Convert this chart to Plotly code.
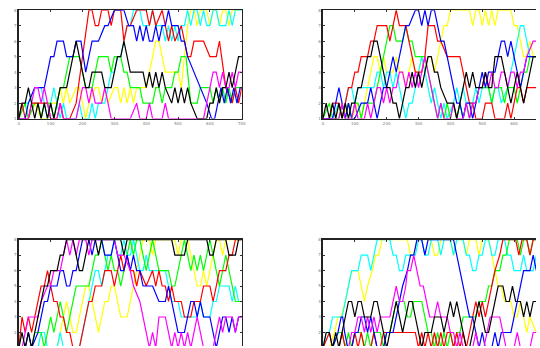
import plotly.graph_objects as go

# ---------------- data: (step, level) vertices ----------------
x_tick_vals = [0, 10, 20, 30, 40, 50, 60, 70]
x_tick_text = ["0", "100", "200", "300", "400", "500", "600", "700"]
y_tick_vals = [0, 1, 2, 3, 4, 5, 6, 7]
y_tick_text = ["1", "2", "3", "4", "5", "6", "7", "8"]

# top-left panel
tl_red = [(0,0),(1,1),(2,0),(3,0),(4,1),(9,1),(10,0),(12,0),(13,1),(14,0),(16,0),(18,1),(22,7),(23,7),(24,6),(25,6),(26,7),(28,7),(29,6),(30,7),(32,7),(33,5),(34,6),(35,6),(37,7),(40,7),(41,6),(42,7),(43,6),(45,7),(47,5),(48,6),(49,5),(51,6),(52,5),(53,4),(54,4),(55,5),(58,5),(60,4),(62,4),(63,5),(65,2),(67,1),(68,2),(69,1),(70,2)]
tl_blue = [(0,0),(2,0),(3,1),(5,2),(8,2),(9,3),(10,4),(11,4),(12,5),(14,5),(15,4),(17,4),(18,5),(19.5,5),(21,3),(22,4),(23,5),(25,5),(27,6),(28,6),(30,7),(33,7),(34.5,6),(36,6),(37,5),(38,6),(39,5),(40,6),(41,5),(42,5),(43,6),(44,5),(45,6),(46,6),(47,7),(48,6),(50,6),(51,5),(52,5),(53,4),(55,3),(57,2),(59,1),(60.5,0),(61.5,0),(62.5,1),(63.5,2),(64.5,1),(65.5,2),(66.5,1),(67.5,2),(68.5,1),(69.5,2),(70,2)]
tl_yellow = [(0,0),(3,0),(5,1),(7,0),(9,0),(10,1),(12,1),(13,2),(14,1),(15,2),(16,1),(18,2),(19,2),(20,1),(21,0),(22,1),(24,2),(25,2),(26,1),(27,2),(28,1),(30,2),(31,2),(32,1),(33,2),(34,1),(35,2),(36,1),(37,2),(40,2),(41,3),(42,4),(43,5),(44,5),(45,4),(46,3),(48,3),(50,3),(51,2),(52,4),(53,6),(54,7),(55,7),(56,6),(57,7),(59,7),(60,6),(61,7),(62,7),(63,6),(64,7),(65,7),(66,6),(67,7),(70,7)]
tl_cyan = [(0,0),(2,1),(3,1),(5,2),(7,2),(8,1),(9,0),(10,1),(11,2),(12,1),(13,0),(14,1),(15,0),(18,0),(19,1),(20,0),(22,0),(23,1),(24,0),(25,1),(26,1),(27,1),(28,2),(29,3),(30,3),(31,4),(32,4),(33,5),(34,6),(35,6),(36,7),(38,7),(39,6),(41,6),(42,7),(43,6),(45,6),(46,5),(47,6),(48,5),(49,6),(50,5),(51,6),(52,6),(53,7),(54,6),(55,7),(56,7),(57,6),(58,7),(59,6),(60,6),(61,7),(62,7),(63,6),(65,6),(66,7),(67,6),(68,7),(70,7)]
tl_green = [(0,0),(2,1),(3,0),(5,1),(6,1),(7,0),(8,1),(10,1),(11,0),(12,1),(13,2),(14,2),(15,3),(16,4),(19,4),(20,3),(21,2),(23,2),(24,3),(25,4),(28,4),(29,3),(30,4),(32,4),(33,3),(34,3),(35,2),(38,2),(39,1),(42,1),(43,2),(44,2),(45,1),(46,2),(48,2),(49,3),(50,3),(51,4),(52.5,4),(53,3),(54,1),(56,1),(57,2),(60,2),(61,1),(62,2),(63,1),(64,2),(65,1),(66,2),(67,1),(68,2),(70,2)]
tl_black = [(0,0),(1,1),(2,1),(3,2),(4,1),(5,0),(6,1),(7,0),(8,1),(9,0),(10,1),(11,0),(12,1),(13,2),(15,2),(16,3),(17,4),(18,5),(19,4),(20,3),(21,2),(22,2),(23,3),(26,3),(27,2),(29,2),(30,3),(31,4),(32,4),(33,5),(34,4),(35,3),(39,3),(40,2),(41,3),(42,2),(43,3),(44,2),(45,3),(46,2),(48,1),(49,2),(50,1),(51,2),(52,1),(53,2),(54,1),(56,0),(59,0),(60,1),(61,1),(62,2),(63,1),(64,2),(65,2),(66,3),(67,2),(68,3),(69,4),(70,4)]
tl_magenta = [(0,0),(3,0),(4,1),(5,2),(6,2),(7,1),(8,2),(9,1),(10,0),(12,0),(13,1),(14,0),(18,0),(19,1),(20,2),(21,2),(22,1),(23,2),(24,1),(26,1),(27,2),(28,1),(29,0),(35,0),(37,1),(38,0),(40,0),(41,1),(42,0),(45,0),(46,1),(47,0),(58,0),(59,1),(60,2),(61,3),(62,3),(63,2),(64,3),(65,2),(66,2),(67,3),(68,2),(69,3),(70,3)]

# top-right panel
tr_red = [(0,0),(2,0),(3,1),(5,1),(6,0),(7,1),(8,2),(9,2),(10,3),(11,3),(12,4),(14,4),(15,5),(16,5),(17,6),(20,6),(21,5),(23,7),(24,6),(26,6),(27,5),(28,4),(29,3),(31,3),(32,4),(33,6),(35,6),(36,5),(37,5),(39,4),(43,4),(44,3),(45,2),(46,1),(47,1),(48,0),(50,0),(51,1),(53,1),(54,0),(57,0),(58,1),(59,0),(60,1),(61,2),(62,2),(63,1),(64,2),(65,2),(67,2)]
tr_blue = [(0,0),(3,0),(4,1),(5,2),(6,1),(7,0),(8,1),(9,0),(10,0),(12,1),(14,1),(15,2),(16,1),(17,0),(18,1),(19,2),(20,2),(21,3),(22,4),(23,3),(24,4),(25,5),(26,6),(27,6),(29,7),(30,7),(31,6),(32,7),(33,6),(34,7),(35,7),(36,6),(37,5),(38,5),(39,4),(40,3),(41,2),(42,1),(43,1),(44,0),(45,1),(46,1),(47,0),(48,1),(49,2),(50,3),(51,2),(52,3),(54,3),(55,4),(56,5),(57,5),(58,4),(59,5),(60,4),(61,3),(62,2),(63,3),(64,4),(67,4)]
tr_yellow = [(0,0),(4,0),(5,1),(6,0),(8,1),(9,0),(11,1),(12,0),(13,1),(14,2),(15,3),(16,4),(17,4),(18,3),(19,4),(20,3),(22,3),(23,4),(24,3),(25,3),(26,2),(27,3),(28,4),(29,3),(30,3),(31,4),(32,3),(33,4),(34,4),(35,3),(36,4),(37,5),(38,6),(39,6),(40,7),(46,7),(47,6),(48,7),(49,7),(50,6),(51,7),(52,6),(53,7),(54,6),(55,7),(59,7),(60,6),(61,6),(62,5),(63,4),(64,4),(65,5),(66,4),(67,4)]
tr_cyan = [(0,0),(3,0),(5,1),(6,0),(7,1),(8,2),(9,2),(10,1),(11,2),(16,2),(17,3),(18,3),(19,2),(20,3),(21,3),(22,2),(23,3),(24,2),(25,1),(26,0),(27,1),(28,1),(29,2),(30,3),(31,4),(32,3),(33,2),(34,1),(35,2),(36,1),(37,0),(38,1),(39,0),(41,1),(42,2),(43,1),(44,2),(45,1),(47,1),(48,2),(49,1),(50,2),(52,2),(53,1),(54,2),(55,2),(56,1),(58,2),(59,3),(60,4),(61,5),(62,6),(63,6),(64,5),(65,4),(67,4)]
tr_green = [(0,0),(2,1),(3,0),(5,0),(6,1),(7,0),(8,1),(9,0),(10,1),(11,1),(12,0),(13,1),(16,1),(17,2),(18,3),(19,4),(20,5),(21,6),(22,6),(23,5),(25,5),(26,6),(27,5),(28,5),(29,4),(32,4),(33,3),(34,2),(35,1),(36,0),(37,1),(38,0),(39,1),(40,0),(41,1),(42,0),(43,1),(44,0),(45,1),(46,0),(47,1),(48,1),(49,2),(50,2),(52,2),(53,1),(54,2),(56,2),(57,1),(58,2),(60,2),(61,1),(62,2),(63,3),(64,3),(65,4),(67,4)]
tr_black = [(0,0),(1,1),(2,0),(3,1),(4,0),(5,1),(6,0),(7,1),(8,0),(9,1),(10,1),(11,2),(12,2),(13,3),(14,4),(15,4),(16,5),(17,5),(18,4),(19,3),(20,2),(21,2),(22,1),(23,1),(24,0),(25,1),(26,2),(27,2),(28,3),(29,2),(30,3),(31,2),(32,3),(33,4),(34,4),(35,3),(36,3),(37,2),(39,1),(41,1),(42,0),(43,1),(44,2),(45,3),(46,2),(47,3),(48,2),(50,2),(51,3),(52,2),(53,2),(54,4),(56,4),(57,3),(58,2),(59,1),(60,2),(61,3),(62,2),(63,1),(64,2),(65,3),(66,4),(67,4)]
tr_magenta = [(0,0),(5,0),(6,1),(7,0),(9,0),(10,1),(11,0),(13,0),(14,1),(15,0),(16,1),(17,2),(18,2),(19,1),(20,2),(21,1),(22,2),(23,2),(24,3),(25,3),(26,2),(27,3),(28,2),(29,3),(30,2),(31,3),(32,4),(33,3),(34,2),(35,1),(36,0),(37,1),(38,0),(40,0),(41,1),(42,0),(44,0),(45,1),(46,0),(47,1),(48,1),(49,2),(50,2),(51,3),(52,2),(53,3),(54,2),(55,2),(56,3),(57,3),(58,2),(59,3),(60,3),(61,2),(62,3),(63,3),(64,4),(66,5),(67,5)]

# bottom-left panel
bl_red = [(0,0),(1,2),(2,1),(3,2),(4,1),(5,2),(6,3),(7,4),(8,4),(9,5),(10,4),(11,3),(12,3),(13,2),(14,2),(15,1),(16,1),(17,0),(19,0),(20,1),(21,2),(22,3),(23,3),(24,4),(26,4),(27,5),(29,5),(30,4),(31,5),(32,6),(33,5),(34,6),(35,5),(36,5),(37,4),(38,5),(40,4),(42,5),(43,4),(44,5),(45,4),(46,4),(47,3),(48,4),(49,3),(51,3),(52,2),(54,2),(55,3),(57,3),(58,4),(60,4),(61,3),(62,4),(63,5),(65,5),(66,6),(67,6),(68,7),(70,7)]
bl_blue = [(0,0),(2,0),(3,1),(4,0),(6,1),(7,2),(8,3),(9,3),(10,4),(12,4),(13,5),(14,5),(15,4),(16,4),(17,5),(18,5),(19,6),(20,7),(22,7),(23,6),(24,7),(26,7),(27,6),(29,6),(30,7),(31,6),(32,5),(33,5),(34,6),(35,5),(36,6),(37,5),(38,5),(39,4),(42,4),(44,3),(46,3),(47,4),(48,3),(49,2),(50,1),(52,1),(53,2),(54,3),(55,3),(56,2),(57,3),(58,2),(60,2),(61,1),(62,0),(63,1),(64,2),(65,2),(66,1),(67,2),(68,1),(69,2),(70,2)]
bl_yellow = [(0,0),(12,0),(13,1),(14,2),(15,3),(16,2),(17,1),(18,1),(19,2),(20,3),(21,4),(22,4),(23,3),(24,2),(25,1),(26,2),(27,3),(28,3),(29,4),(30,4),(31,3),(32,2),(34,2),(35,3),(36,4),(37,5),(38,6),(39,7),(41,7),(42,6),(43,7),(49,7),(50,6),(51,7),(53,7),(54,6),(55,5),(56,4),(57,4),(58,5),(59,4),(60,5),(61,6),(62,7),(63,7),(64,6),(65,7),(70,7)]
bl_cyan = [(0,0),(6,0),(7,1),(8,1),(9,0),(12,0),(13,1),(14,0),(19,0),(20,1),(21,2),(22,3),(23,4),(24,5),(25,5),(26,4),(27,5),(28,6),(29,6),(30,7),(31,6),(32,6),(33,7),(34,6),(35,6),(36,7),(37,6),(38,5),(39,5),(40,6),(41,5),(46,5),(47,4),(48,3),(50,3),(51,2),(56,2),(57,3),(58,2),(60,2),(61,3),(62,3),(63,4),(66,4),(67,3),(68,4),(69,3),(70,3)]
bl_green = [(0,0),(4,0),(5,1),(7,1),(8,0),(9,1),(10,2),(11,1),(12,2),(13,3),(14,2),(15,1),(16,2),(17,3),(18,4),(22,4),(23,5),(24,6),(25,6),(26,7),(27,6),(28,5),(29,6),(30,5),(31,5),(32,4),(33,5),(34,6),(35,7),(36,6),(37,7),(38,7),(39,6),(40,5),(41,6),(42,7),(43,6),(44,5),(47,5),(48,4),(49,4),(50,5),(51,6),(52,7),(53,6),(54,5),(55,6),(56,5),(57,6),(58,5),(59,6),(60,7),(61,6),(62,5),(63,4),(64,5),(65,6),(66,5),(67,4),(68,3),(70,3)]
bl_black = [(0,0),(1,1),(2,0),(3,1),(4,0),(5,1),(6,2),(7,3),(8,4),(9,4),(10,5),(12,5),(13,6),(14,6),(15,7),(17,7),(18,6),(19,5),(20,5),(21,6),(22,7),(24,7),(25,6),(26,7),(32,7),(33,6),(34,7),(48,7),(49,6),(52,6),(53,7),(59,7),(60,6),(61,6),(62,7),(65,7),(66,6),(68,6),(69,7),(70,7)]
bl_magenta = [(0,0),(1,0),(2,1),(3,2),(6,2),(7,3),(9,4),(10,4),(11,5),(13,5),(14,6),(15,7),(16,6),(17,7),(18,6),(19,7),(21,7),(22,6),(23,7),(30,7),(31,6),(33,6),(35,5),(36,4),(38,3),(39,2),(40,1),(41,0),(42,1),(43,0),(44,2),(46,2),(47,1),(48,0),(49,1),(50,0),(51,1),(52,0),(53,1),(54,0),(55,1),(56,2),(57,1),(58,0),(61,0),(62,1),(63,2),(64,1),(65,2),(67,2),(68,1),(69,2),(70,2)]

# bottom-right panel
br_red = [(0,0),(2,1),(3,0),(5,0),(6,1),(7,0),(9,0),(10,1),(11,0),(12,1),(13,0),(15,0),(16,1),(17,0),(18,0),(19,1),(29,1),(30,0),(31,1),(32,0),(33,1),(34,0),(35,1),(36,0),(37,1),(38,0),(39,1),(40,1),(41,0),(42,1),(43,0),(44,1),(45,0),(46,1),(47,2),(48,3),(49,2),(50,3),(51,2),(52,3),(53,4),(54,5),(55.5,6),(56.5,7),(60.5,7),(61.5,6),(62.5,7),(64,7),(65,6),(66,7),(67,7)]
br_blue = [(0,0),(3,0),(4.7,1),(5.7,2),(6.2,2),(6.8,1),(7.8,0),(9,0),(10,1),(11,1),(12,2),(13,2),(14,1),(15,2),(16,1),(17,0),(19,0),(20,1),(22,1),(23,2),(24,3),(25,4),(26.5,5),(27.5,6),(28.5,6),(29.5,7),(31,7),(32,6),(33,7),(41,7),(42,6),(43,5),(44,4),(45,3),(46,2),(47,2),(48,1),(49,0),(50,1),(51,0),(53,0),(54,1),(55,0),(56,1),(59,1),(60,2),(61,3),(62,4),(63,5),(65,5),(66,6),(67,5)]
br_yellow = [(0,0),(2,0),(3.6,1),(4.7,2),(5.7,2),(7,3),(8,4),(9,5),(11,5),(12,4),(13,3),(14,4),(15.5,5),(16.5,6),(17.5,6),(18.5,7),(26.5,7),(27.5,6),(28.5,6),(29.5,7),(34,7),(35,6),(36,6),(37,7),(40,7),(41,6),(42,7),(44,7),(45,6),(46,7),(48,7),(49,6),(50,7),(52,7),(53,6),(54,5),(55,4),(56,4),(57,3),(59,3),(60,2),(61,2),(62,3),(63,2),(64,1),(65,2),(67,1)]
br_cyan = [(0,0),(1,1),(2,1),(3,2),(6,2),(7,3),(8,4),(9,5),(11,5),(12,6),(14,6),(15,5),(16,6),(17,7),(21,7),(22,6),(23,6),(24,5),(25,5),(26,6),(29,6),(30,7),(31,7),(32,6),(33,6),(34,7),(36,7),(37,6),(38,7),(40,7),(41,6),(42,7),(44,7),(45,6),(46,6),(47,5),(48,5),(49,6),(50,6),(51,7),(52,7),(53,6),(54,6),(55,7),(57,7),(58,6),(59,6),(60,5),(62,5),(63,6),(64,5),(66,5),(67,6)]
br_green = [(0,0),(3,0),(4.7,1),(6,1),(7,0),(8,1),(9,0),(10,1),(12,1),(13,0),(14,1),(15,0),(16,1),(18,1),(19,0),(20,1),(21,1),(22,2),(23,3),(25.5,3),(26.5,2),(27.5,2),(28.5,3),(31,3),(32,2),(33,1),(34,1),(35,0),(36,1),(37,0),(38,1),(39,0),(40,1),(41,0),(42,1),(43,1),(44,2),(48,2),(49,3),(51,3),(52,4),(53,4),(54,5),(55.5,5),(56.5,6),(57.5,6),(58.5,7),(61,7),(62,6),(63,7),(64,7),(65,6),(66,7),(67,7)]
br_black = [(0,0),(1,1),(2,1),(3,0),(4,1),(5,0),(6,1),(7,2),(8,3),(9,3),(10,2),(11,3),(12,3),(13,2),(15,2),(16,3),(17,3),(18,2),(19,1),(20,0),(21,1),(22,2),(23,3),(24,2),(25,1),(26,2),(27,3),(28,3),(29,2),(30,1),(31,0),(32,1),(34,1),(35,2),(37,2),(38,1),(39,2),(40,3),(41,2),(42,3),(43,2),(44,1),(45,0),(46,0),(47,1),(48,2),(49,3),(50,2),(51,1),(52,1),(53,2),(54,3),(55,4),(56.5,4),(57.5,3),(58.5,3),(59.5,4),(60.5,3),(62,3),(63,2),(64,3),(65,2),(66,3),(67,3)]
br_magenta = [(0,0),(8,0),(9,1),(10,1),(11,2),(12,2),(13,1),(14,2),(15,1),(16,2),(17,1),(18,2),(21,2),(22,3),(23,4),(24,3),(25,3),(26,4),(26.5,5),(27.5,5),(28.5,6),(29.5,5),(30.5,4),(31.5,4),(32.5,3),(33.5,2),(35,2),(36,3),(37,2),(39,2),(40,1),(41,1),(42,0),(43,1),(44,0),(47,0),(48,1),(49,0),(50.5,0),(51.5,1),(52.5,2),(55.5,2),(56.5,1),(57.5,0),(60,0),(61,1),(62,0),(65,0),(66,1),(67,1)]

panels = [
    ("x", "y", [tl_yellow, tl_cyan, tl_green, tl_red, tl_blue, tl_magenta, tl_black]),
    ("x2", "y2", [tr_yellow, tr_cyan, tr_green, tr_red, tr_blue, tr_magenta, tr_black]),
    ("x3", "y3", [bl_yellow, bl_cyan, bl_green, bl_red, bl_blue, bl_magenta, bl_black]),
    ("x4", "y4", [br_yellow, br_cyan, br_green, br_red, br_blue, br_magenta, br_black]),
]
colors = ["#ffff00", "#00ffff", "#00ff00", "#ff0000", "#0000ff", "#ff00ff", "#000000"]

# ---------------- figure ----------------
W, H = 540, 348
fig = go.Figure()
for xa, ya, series in panels:
    for pts, col in zip(series, colors):
        fig.add_trace(go.Scatter(
            x=[p[0] for p in pts], y=[p[1] for p in pts], mode="lines",
            line=dict(color=col, width=1.2), xaxis=xa, yaxis=ya,
            showlegend=False, hoverinfo="skip"))

# pixel geometry of the axes boxes (boxes on the right / bottom run past the window)
L_x0, L_x1 = 18, 243
R_x0, R_x1 = 325, 550
T_y0, T_y1 = 7.3, 117.3
B_y0, B_y1 = 240, 350

def px_dom_x(a, b):
    return [a / W, min(b, W) / W]

def px_dom_y(a, b):
    return [1 - min(b, H) / H, 1 - a / H]

full_x = 70.0
right_xmax = full_x * (W - R_x0) / (R_x1 - R_x0)
full_y = 7.0
bottom_ymin = full_y - full_y * (H - B_y0) / (B_y1 - B_y0)

tickfont = dict(size=4, color="#777777", family="DejaVu Sans")
axis_common = dict(showgrid=False, zeroline=False, showline=True,
                   linecolor="#222222", linewidth=1.5, ticks="inside",
                   ticklen=2, tickwidth=1, tickcolor="#333333",
                   tickfont=tickfont)

def xax(dom, rng, anchor, bottom_cut):
    d = dict(axis_common, domain=dom, range=rng, anchor=anchor,
             tickvals=x_tick_vals, ticktext=x_tick_text)
    if bottom_cut:
        d.update(side="top", mirror=False, showticklabels=False)
    else:
        d.update(mirror="ticks")
    return d

def yax(dom, rng, anchor, right_cut):
    d = dict(axis_common, domain=dom, range=rng, anchor=anchor,
             tickvals=y_tick_vals, ticktext=y_tick_text)
    d.update(mirror=False if right_cut else "ticks")
    return d

fig.update_layout(
    width=W, height=H, margin=dict(l=0, r=0, t=0, b=0),
    paper_bgcolor="white", plot_bgcolor="white",
    xaxis=xax(px_dom_x(L_x0, L_x1), [0, full_x], "y", False),
    yaxis=yax(px_dom_y(T_y0, T_y1), [0, full_y], "x", False),
    xaxis2=xax(px_dom_x(R_x0, R_x1), [0, right_xmax], "y2", False),
    yaxis2=yax(px_dom_y(T_y0, T_y1), [0, full_y], "x2", True),
    xaxis3=xax(px_dom_x(L_x0, L_x1), [0, full_x], "y3", True),
    yaxis3=yax(px_dom_y(B_y0, B_y1), [bottom_ymin, full_y], "x3", False),
    xaxis4=xax(px_dom_x(R_x0, R_x1), [0, right_xmax], "y4", True),
    yaxis4=yax(px_dom_y(B_y0, B_y1), [bottom_ymin, full_y], "x4", True),
)

fig.write_html("out.html",
               config={"displayModeBar": False, "staticPlot": True},
               post_script="document.body.style.margin='0px';document.body.style.overflow='hidden';")
